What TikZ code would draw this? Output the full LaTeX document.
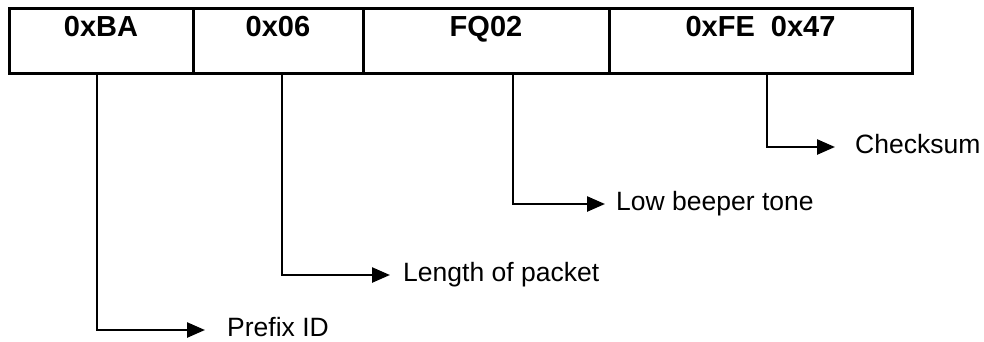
\documentclass[tikz,border=0pt]{standalone}
\usepackage{fontspec}
\setmainfont{Liberation Sans}
\usetikzlibrary{arrows.meta}
\begin{document}
\begin{tikzpicture}[x=1pt,y=-1pt,
  cell/.style={draw, line width=3pt, minimum height=65pt, inner sep=0pt, outer sep=0pt},
  celltext/.style={anchor=base, inner sep=0pt, font=\fontsize{29}{32}\selectfont\bfseries},
  lbl/.style={anchor=west, inner sep=0pt, text height=13pt, text depth=0pt, font=\fontsize{26.5}{30}\selectfont},
  conn/.style={line width=2.5pt, -{Triangle[length=18pt,width=15pt]}}]
\useasboundingbox (0,0) rectangle (984,341);
\node[cell, minimum width=184pt] (c1) at (101,40.5) {};
\node[cell, minimum width=170pt] (c2) at (278,40.5) {};
\node[cell, minimum width=246pt] (c3) at (486,40.5) {};
\node[cell, minimum width=303pt] (c4) at (760.5,40.5) {};
\node[celltext] (t1) at ([yshift=-28pt]c1.north) {0xBA};
\node[celltext] (t2) at ([yshift=-28pt]c2.north) {0x06};
\node[celltext] (t3) at ([yshift=-28pt]c3.north) {FQ02};
\node[celltext] (t4) at ([yshift=-28pt]c4.north) {0xFE\ \ 0x47};
\node[lbl] (l1) at (227,330) {Prefix ID};
\node[lbl] (l2) at (403,275) {Length of packet};
\node[lbl] (l3) at (616,204) {Low beeper tone};
\node[lbl] (l4) at (855,147) {Checksum};
\draw[conn] ([xshift=-4pt]c1.south) |- ([xshift=-22pt]l1.west);
\draw[conn] ([xshift=4pt]c2.south) |- ([xshift=-13pt]l2.west);
\draw[conn] ([xshift=27pt]c3.south) |- ([xshift=-11pt]l3.west);
\draw[conn] ([xshift=6.5pt]c4.south) |- ([xshift=-20pt]l4.west);
\end{tikzpicture}
\end{document}
